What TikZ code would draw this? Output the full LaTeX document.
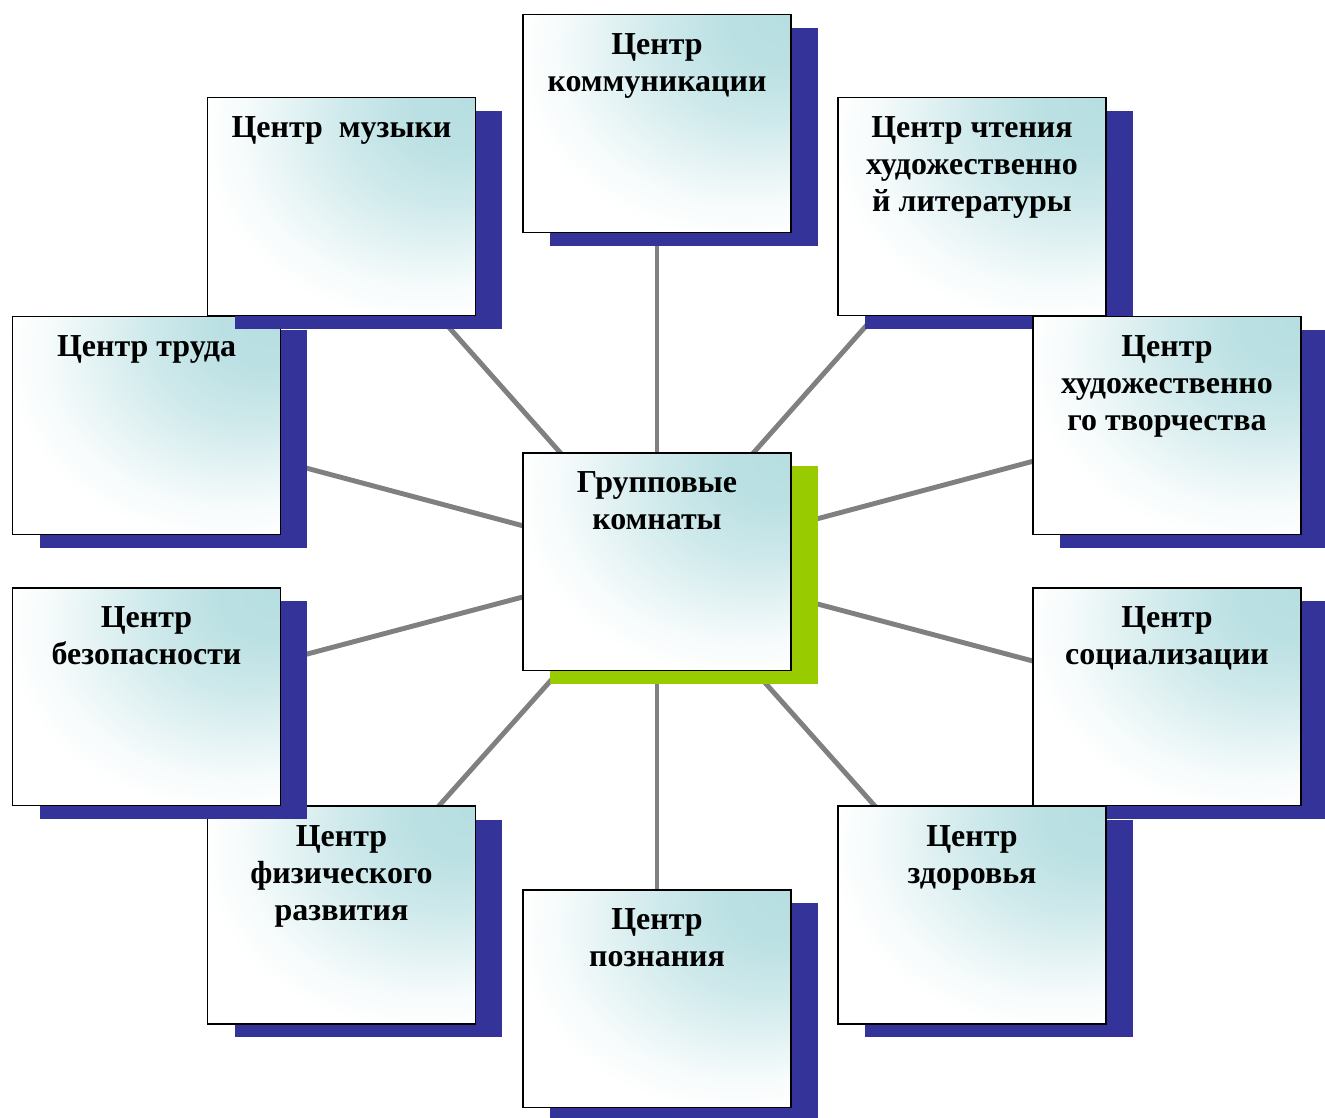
\documentclass[tikz,border=0pt]{standalone}
\usepackage{fontspec}
\setmainfont{Liberation Serif}
\usetikzlibrary{shadows,backgrounds}

\definecolor{shadowblue}{RGB}{51,51,153}
\definecolor{shadowgreen}{RGB}{153,204,0}
\definecolor{glow}{RGB}{182,222,225}
\definecolor{spokegray}{RGB}{128,128,128}

\pgfdeclareradialshading{boxglow}{\pgfpoint{25bp}{25bp}}{color(0bp)=(glow); color(10bp)=(glow!92!white); color(20bp)=(glow!65!white); color(27bp)=(glow!40!white); color(35bp)=(glow!12!white); color(41bp)=(white); color(100bp)=(white)}

\tikzset{
	box/.style={rectangle, draw=black, line width=1.1pt, shade, shading=boxglow,
		minimum width=5.36cm, minimum height=4.36cm, inner sep=0pt,
		drop shadow={shadow xshift=0.54cm, shadow yshift=-0.27cm, fill=#1, draw=none, opacity=1}},
	box/.default=shadowblue,
	boxtext/.style={anchor=north, inner sep=0pt, align=center, yshift=-0.40cm,
		font=\fontsize{18.2}{21}\selectfont\bfseries},
	spoke/.style={line width=2.8pt, spokegray}
}

\begin{document}
\begin{tikzpicture}[x=0.02cm, y=-0.02cm]

			\useasboundingbox (0, 0) rectangle (1325, 1117);

			% outer boxes, in the order they overlap
			\node[box, label={[boxtext]north:{Центр труда}}] (trud) at (146.5, 425.5) {};
			\node[box, label={[boxtext]north:{Центр~~музыки}}] (muz) at (341.5, 206.5) {};
			\node[box, label={[boxtext]north:{Центр\\коммуникации}}] (kom) at (657, 123.5) {};
			\node[box, label={[boxtext]north:{Центр чтения\\художественно\\й литературы}}] (cht) at (972, 206.5) {};
			\node[box, label={[boxtext]north:{Центр\\художественно\\го творчества}}] (tvor) at (1167, 425.5) {};
			\node[box, label={[boxtext]north:{Центр\\физического\\развития}}] (fiz) at (341.5, 915) {};
			\node[box, label={[boxtext]north:{Центр\\безопасности}}] (bez) at (146.5, 696.5) {};
			\node[box, label={[boxtext]north:{Центр\\социализации}}] (soc) at (1167, 696.5) {};
			\node[box, label={[boxtext]north:{Центр\\здоровья}}] (zdor) at (972, 915) {};
			\node[box, label={[boxtext]north:{Центр\\познания}}] (pozn) at (657, 998.5) {};

			\node[box=shadowgreen, label={[boxtext]north:{Групповые\\комнаты}}] (cen) at (657, 561.5) {};

			\begin{scope}[on background layer]
				\foreach \n in {trud,muz,kom,cht,tvor,fiz,bez,soc,zdor,pozn}
					\draw[spoke] (cen.center) -- (\n.center);
			\end{scope}

		\end{tikzpicture}
\end{document}
